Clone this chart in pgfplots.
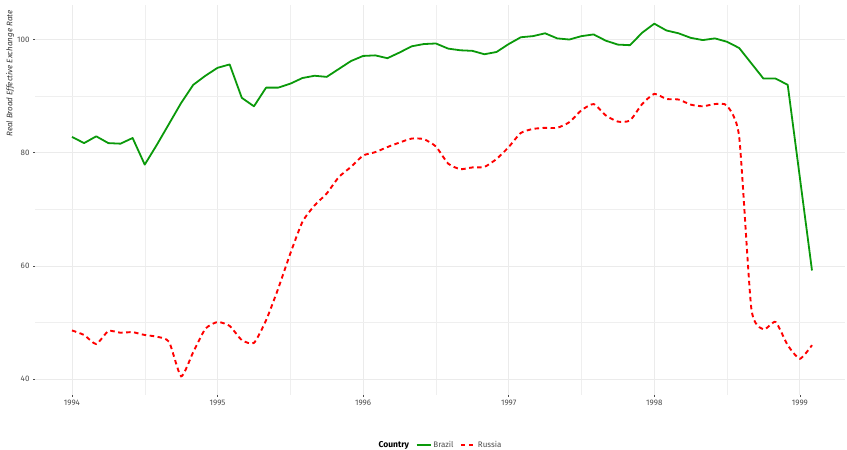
\documentclass[border=0pt]{standalone}
\usepackage{pgfplots}
\pgfplotsset{compat=1.18}
\usepackage{pgfplotstable}
\usepackage{fontspec}
\setmainfont{Fira Sans}
\definecolor{bgreen}{HTML}{0A990A}
\definecolor{gridc}{HTML}{EBEBEB}
\definecolor{tickc}{HTML}{4D4D4D}

\pgfplotstableread{
i v
0 82.8
1 81.7
2 82.9
3 81.7
4 81.6
5 82.6
6 77.9
7 81.4
8 85.1
9 88.8
10 92.0
11 93.6
12 95.0
13 95.6
14 89.7
15 88.2
16 91.5
17 91.5
18 92.2
19 93.2
20 93.6
21 93.4
22 94.8
23 96.2
24 97.1
25 97.2
26 96.7
27 97.7
28 98.8
29 99.2
30 99.3
31 98.4
32 98.1
33 98.0
34 97.4
35 97.8
36 99.2
37 100.4
38 100.6
39 101.1
40 100.2
41 100.0
42 100.6
43 100.9
44 99.8
45 99.1
46 99.0
47 101.2
48 102.8
49 101.6
50 101.1
51 100.3
52 99.9
53 100.2
54 99.6
55 98.5
56 95.8
57 93.1
58 93.1
59 92.0
60 75.6
61 59.2
}\brazil

\pgfplotstableread{
i v
0 48.6
1 47.8
2 46.2
3 48.5
4 48.2
5 48.3
6 47.8
7 47.5
8 46.6
9 40.5
10 44.8
11 48.9
12 50.1
13 49.4
14 46.9
15 46.4
16 50.4
17 56.0
18 62.2
19 67.8
20 70.7
21 72.8
22 75.7
23 77.5
24 79.5
25 80.1
26 81.0
27 81.8
28 82.5
29 82.4
30 81.1
31 78.1
32 77.1
33 77.4
34 77.5
35 78.9
36 81.0
37 83.5
38 84.2
39 84.4
40 84.4
41 85.4
42 87.5
43 88.6
44 86.6
45 85.5
46 85.7
47 88.6
48 90.4
49 89.5
50 89.4
51 88.5
52 88.2
53 88.6
54 88.3
55 82.8
56 52.5
57 48.8
58 50.1
59 46.0
60 43.6
61 46.0
}\russia

\begin{document}
\begin{tikzpicture}[x=1pt,y=1pt]
\path[use as bounding box] (0,0) rectangle (847,450);
\begin{axis}[
  at={(35pt,55pt)}, anchor=south west,
  scale only axis, width=810pt, height=390pt,
  xmin=1993.746, xmax=1999.31, ymin=37.2, ymax=106.1,
  axis line style={draw=none},
  xtick={1994,1995,1996,1997,1998,1999},
  ytick={40,60,80,100},
  minor xtick={1994.5,1995.5,1996.5,1997.5,1998.5},
  minor ytick={50,70,90},
  grid=both,
  major grid style={draw=gridc, line width=0.8pt},
  minor grid style={draw=gridc!80, line width=0.5pt},
  tick align=outside,
  xtick pos=bottom, ytick pos=left,
  major tick length=2pt, minor tick length=0pt,
  tick style={draw=tickc, line width=0.6pt},
  /pgf/number format/1000 sep={},
  /pgf/number format/assume math mode=true,
  ticklabel style={font=\fontsize{8}{9.5}\selectfont, text=tickc},
  legend style={at={(0.5,-0.128)}, anchor=center, draw=none, fill=none,
    legend columns=-1, font=\fontsize{8}{9.5}\selectfont,
    /tikz/every even column/.append style={column sep=4.5pt}},
  legend cell align=left,
  legend image code/.code={\draw[#1] (0pt,0pt) -- (14pt,0pt);},
]
\addlegendimage{empty legend}
\addlegendentry{\fontsize{8.5}{10}\selectfont\bfseries Country}
\addplot[bgreen, line width=1.8pt, line join=round] table[x expr={1994+\thisrow{i}/12}, y=v] {\brazil};
\addlegendentry{\textcolor{tickc}{Brazil}}
\addplot[red, line width=1.9pt, dash pattern=on 4.5pt off 3.5pt, smooth, tension=0.35] table[x expr={1994+\thisrow{i}/12}, y=v] {\russia};
\addlegendentry{\textcolor{tickc}{Russia}}
\end{axis}
\node[rotate=90, anchor=east, font=\itshape\fontsize{8}{10}\selectfont, text=tickc!70!black] at (10,443) {Real Broad Effective Exchange Rate};
\end{tikzpicture}
\end{document}
